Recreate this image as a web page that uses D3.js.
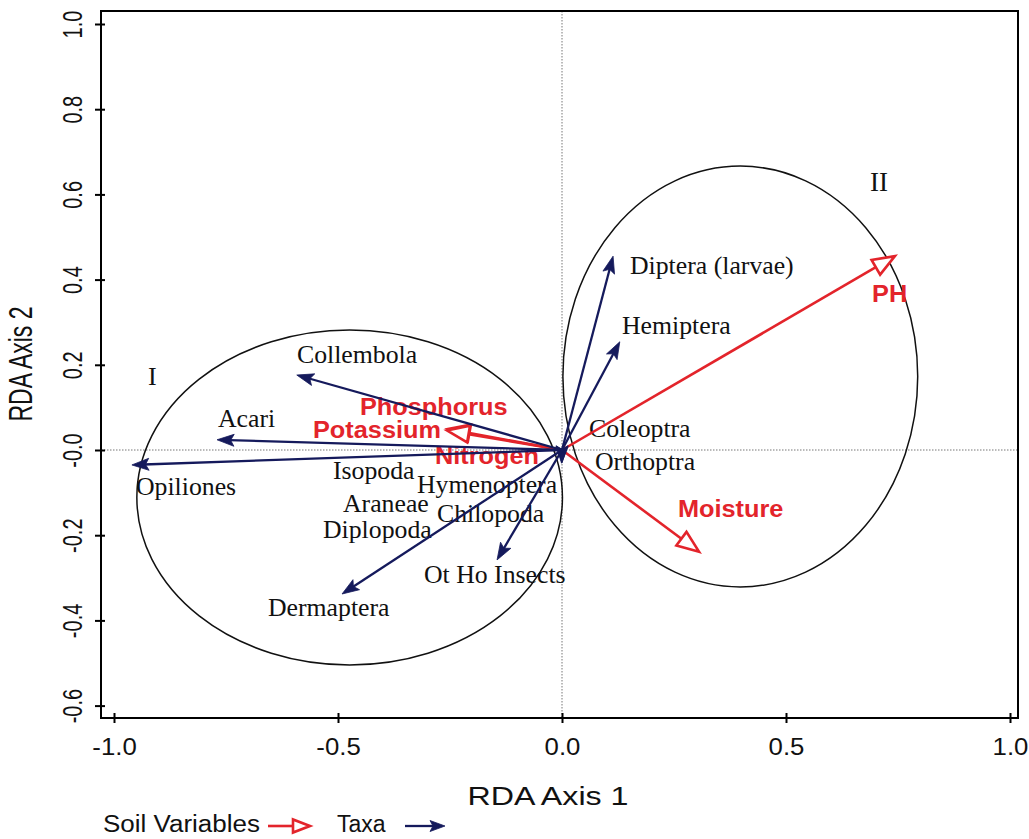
<!DOCTYPE html>
<html>
<head>
<meta charset="utf-8">
<script src="https://cdn.jsdelivr.net/npm/d3@7"></script>
<style>
  body { margin: 0; background: #fff; }
  svg { display: block; }
</style>
</head>
<body>
<svg id="chart" width="1029" height="839"></svg>
<script>
// ---- Taxa scores on RDA axes 1 and 2 ----
const taxa = ["Collembola", "Acari", "Opiliones", "Isopoda", "Araneae", "Diplopoda",
  "Hymenoptera", "Chilopoda", "Dermaptera", "Ot Ho Insects", "Diptera (larvae)",
  "Hemiptera", "Coleoptra", "Orthoptra"];
const taxaAxis1 = [-0.592, -0.770, -0.960, -0.006, -0.004, -0.005, -0.001, 0.000,
  -0.491, -0.145, 0.114, 0.129, 0.003, 0.004];
const taxaAxis2 = [0.176, 0.024, -0.035, -0.004, -0.006, -0.005, -0.031, -0.030,
  -0.338, -0.258, 0.455, 0.254, 0.003, -0.004];

// ---- Soil variable scores ----
const soilVars = ["PH", "Moisture", "Phosphorus", "Potassium", "Nitrogen"];
const soilAxis1 = [0.743, 0.306, -0.255, -0.257, -0.006];
const soilAxis2 = [0.455, -0.239, 0.049, 0.046, -0.004];

// ---- Grouping ellipses (centre and semi-axes in axis units) ----
const groups = ["I", "II"];
const groupCx = [-0.474, 0.398];
const groupCy = [-0.1115, 0.1725];
const groupRx = [0.475, 0.396];
const groupRy = [0.393, 0.494];

// ---- Axis ticks ----
const xTicks = [-1.0, -0.5, 0.0, 0.5, 1.0];
const xTickLabels = ["-1.0", "-0.5", "0.0", "0.5", "1.0"];
const yTicks = [-0.6, -0.4, -0.2, 0.0, 0.2, 0.4, 0.6, 0.8, 1.0];
const yTickLabels = ["-0.6", "-0.4", "-0.2", "-0.0", "0.2", "0.4", "0.6", "0.8", "1.0"];

// ---- Where each name is written (axis units, left end of the baseline) ----
const taxaLabelAt = [[-0.5915, 0.2042], [-0.7679, 0.0540], [-0.9509, -0.1056],
  [-0.5112, -0.0680], [-0.4888, -0.1455], [-0.5335, -0.2066], [-0.3237, -0.1010],
  [-0.2790, -0.1700], [-0.6563, -0.3897], [-0.3080, -0.3122], [0.1518, 0.4131],
  [0.1339, 0.2723], [0.0603, 0.0305], [0.0737, -0.0469]];
const soilLabelAt = [[0.6920, 0.3474], [0.2589, -0.1573], [-0.4509, 0.0822],
  [-0.5558, 0.0282], [-0.2835, -0.0340]];
const groupLabelAt = [[-0.9241, 0.1526], [0.6875, 0.6080]];

// ---- Styling ----
const RED = "#e3242b";
const NAVY = "#151a5c";
const SERIF = "'Liberation Serif', 'Times New Roman', serif";
const SANS = "'Liberation Sans', Arial, sans-serif";

const svg = d3.select("#chart");
const frame = { left: 101, right: 1018, top: 11, bottom: 718 };

const x = d3.scaleLinear().domain([-1, 1]).range([114, 1010]);
const y = d3.scaleLinear().domain([-0.6, 1.0]).range([705.6, 24]);

// widen a text element horizontally by a factor
function stretch(sel, k) {
  sel.each(function () {
    const w = this.getComputedTextLength();
    d3.select(this).attr("textLength", w * k).attr("lengthAdjust", "spacingAndGlyphs");
  });
}

// ---- Reference lines through the origin ----
svg.append("line")
  .attr("x1", frame.left).attr("x2", frame.right)
  .attr("y1", y(0)).attr("y2", y(0))
  .attr("stroke", "#777").attr("stroke-width", 1).attr("stroke-dasharray", "1.5,1.5");
svg.append("line")
  .attr("x1", x(0)).attr("x2", x(0))
  .attr("y1", frame.top).attr("y2", frame.bottom)
  .attr("stroke", "#777").attr("stroke-width", 1).attr("stroke-dasharray", "1.5,1.5");

// ---- Group ellipses ----
svg.selectAll("ellipse.group")
  .data(groups)
  .join("ellipse")
  .attr("class", "group")
  .attr("cx", (d, i) => x(groupCx[i]))
  .attr("cy", (d, i) => y(groupCy[i]))
  .attr("rx", (d, i) => x(groupRx[i]) - x(0))
  .attr("ry", (d, i) => y(0) - y(groupRy[i]))
  .attr("fill", "none")
  .attr("stroke", "#111")
  .attr("stroke-width", 1.5);

svg.selectAll("text.grouplab")
  .data(groups)
  .join("text")
  .attr("class", "grouplab")
  .attr("x", (d, i) => x(groupLabelAt[i][0]))
  .attr("y", (d, i) => y(groupLabelAt[i][1]))
  .attr("font-family", SERIF)
  .attr("font-size", (d, i) => i === 0 ? 26 : 27)
  .attr("fill", "#111")
  .text(d => d);

// ---- Names ----
svg.selectAll("text.taxon")
  .data(taxa)
  .join("text")
  .attr("class", "taxon")
  .attr("x", (d, i) => x(taxaLabelAt[i][0]))
  .attr("y", (d, i) => y(taxaLabelAt[i][1]))
  .attr("font-family", SERIF)
  .attr("font-size", 25)
  .attr("fill", "#111")
  .text(d => d)
  .call(stretch, 1.03);

svg.selectAll("text.soil")
  .data(soilVars)
  .join("text")
  .attr("class", "soil")
  .attr("x", (d, i) => x(soilLabelAt[i][0]))
  .attr("y", (d, i) => y(soilLabelAt[i][1]))
  .attr("font-family", SANS)
  .attr("font-weight", "bold")
  .attr("font-size", 23)
  .attr("fill", RED)
  .text(d => d)
  .call(stretch, 1.1);

// ---- Arrow helpers ----
function navyArrow(g, x0, y0, x1, y1, headLen, headHalf) {
  const dx = x1 - x0, dy = y1 - y0, L = Math.hypot(dx, dy);
  if (L < 0.5) return;
  const ux = dx / L, uy = dy / L, px = -uy, py = ux;
  const hasHead = L >= 4;
  const back = hasHead ? Math.min(headLen * 0.7, L) : 0;
  g.append("line")
    .attr("x1", x0).attr("y1", y0)
    .attr("x2", x1 - ux * back).attr("y2", y1 - uy * back)
    .attr("stroke", NAVY).attr("stroke-width", 2.3);
  if (!hasHead) return;
  const bx = x1 - ux * headLen, by = y1 - uy * headLen;
  const nx = x1 - ux * headLen * 0.8, ny = y1 - uy * headLen * 0.8;
  g.append("path")
    .attr("d", `M${x1},${y1}L${bx + px * headHalf},${by + py * headHalf}L${nx},${ny}L${bx - px * headHalf},${by - py * headHalf}Z`)
    .attr("fill", NAVY).attr("stroke", NAVY).attr("stroke-width", 0.8);
}

function redArrow(g, x0, y0, x1, y1, headLen, headHalf) {
  const dx = x1 - x0, dy = y1 - y0, L = Math.hypot(dx, dy);
  if (L < 0.5) return;
  const ux = dx / L, uy = dy / L, px = -uy, py = ux;
  const hasHead = L > headLen;
  const bx = x1 - ux * headLen, by = y1 - uy * headLen;
  g.append("line")
    .attr("x1", x0).attr("y1", y0)
    .attr("x2", hasHead ? bx : x1).attr("y2", hasHead ? by : y1)
    .attr("stroke", RED).attr("stroke-width", 2.6);
  if (!hasHead) return;
  g.append("path")
    .attr("d", `M${x1},${y1}L${bx + px * headHalf},${by + py * headHalf}L${bx - px * headHalf},${by - py * headHalf}Z`)
    .attr("fill", "#fff").attr("stroke", RED).attr("stroke-width", 2.6)
    .attr("stroke-linejoin", "miter");
}

// ---- Soil variable vectors ----
const gSoil = svg.append("g");
soilVars.forEach((d, i) => {
  redArrow(gSoil, x(0), y(0), x(soilAxis1[i]), y(soilAxis2[i]), 22, 8.5);
});

// ---- Taxa vectors ----
const gTaxa = svg.append("g");
taxa.forEach((d, i) => {
  navyArrow(gTaxa, x(0), y(0), x(taxaAxis1[i]), y(taxaAxis2[i]), 17, 6);
});

// ---- Axes ----
const xAxis = svg.append("g")
  .attr("transform", `translate(0,${frame.bottom})`)
  .call(d3.axisBottom(x).tickValues(xTicks)
    .tickFormat((d, i) => xTickLabels[i]).tickSize(5).tickSizeOuter(0));
xAxis.select(".domain").remove();
xAxis.selectAll(".tick line").attr("y1", -5).attr("stroke", "#000").attr("stroke-width", 2);
xAxis.selectAll(".tick text")
  .attr("y", 37).attr("dy", null)
  .attr("font-family", SANS).attr("font-size", 23).attr("fill", "#111")
  .call(stretch, 1.12);

const yAxis = svg.append("g")
  .attr("transform", `translate(${frame.left},0)`)
  .call(d3.axisLeft(y).tickValues(yTicks)
    .tickFormat((d, i) => yTickLabels[i]).tickSize(6).tickSizeOuter(0));
yAxis.select(".domain").remove();
yAxis.selectAll(".tick line").attr("x1", 4).attr("stroke", "#000").attr("stroke-width", 2);
yAxis.selectAll(".tick text")
  .attr("x", null).attr("dy", null)
  .attr("text-anchor", "middle")
  .attr("transform", `translate(${82 - frame.left},0) rotate(-90) scale(1,1.42)`)
  .attr("font-family", SANS).attr("font-size", 20).attr("fill", "#111");

// ---- Plot frame ----
svg.append("rect")
  .attr("x", frame.left).attr("y", frame.top)
  .attr("width", frame.right - frame.left)
  .attr("height", frame.bottom - frame.top)
  .attr("fill", "none").attr("stroke", "#000").attr("stroke-width", 2);

// ---- Axis titles ----
svg.append("text")
  .attr("x", 548).attr("y", 805)
  .attr("text-anchor", "middle")
  .attr("font-family", SANS).attr("font-size", 25).attr("fill", "#111")
  .attr("textLength", 161).attr("lengthAdjust", "spacingAndGlyphs")
  .text("RDA Axis 1");

svg.append("text")
  .attr("transform", "translate(32,364) rotate(-90) scale(1,1.45)")
  .attr("text-anchor", "middle")
  .attr("font-family", SANS).attr("font-size", 23).attr("fill", "#111")
  .text("RDA Axis 2");

// ---- Legend ----
const leg = svg.append("g");
leg.append("text")
  .attr("x", 103).attr("y", 832)
  .attr("font-family", SANS).attr("font-size", 23).attr("fill", "#111")
  .attr("textLength", 157).attr("lengthAdjust", "spacingAndGlyphs")
  .text("Soil Variables");
redArrow(leg, 268, 826, 310, 826, 17, 6.5);
leg.append("text")
  .attr("x", 337).attr("y", 832)
  .attr("font-family", SANS).attr("font-size", 23).attr("fill", "#111")
  .text("Taxa");
navyArrow(leg, 405, 826, 445, 826, 15, 5.5);
</script>
</body>
</html>
